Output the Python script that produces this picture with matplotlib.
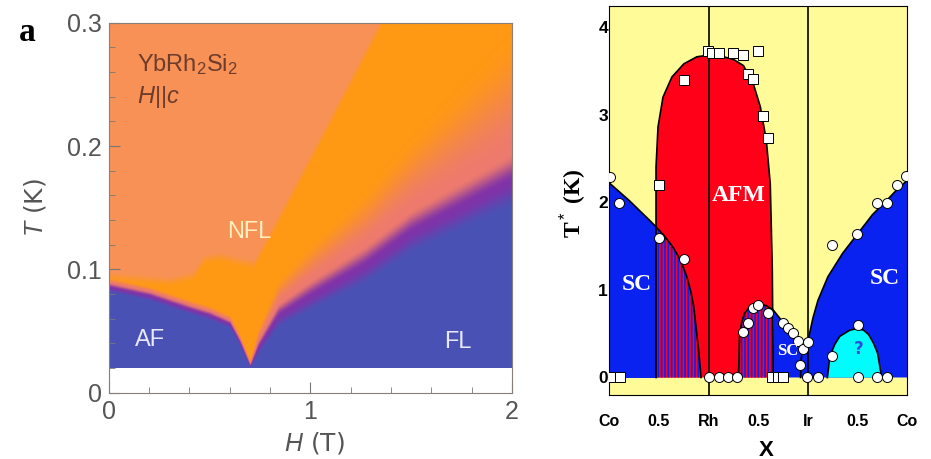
import numpy as np
import matplotlib
matplotlib.use("Agg")
import matplotlib.pyplot as plt
from matplotlib import font_manager

installed = {f.name for f in font_manager.fontManager.ttflist}
narrow = "Liberation Sans Narrow" if "Liberation Sans Narrow" in installed else "Liberation Sans"

plt.rcParams["mathtext.fontset"] = "custom"
plt.rcParams["mathtext.rm"] = narrow
plt.rcParams["mathtext.it"] = narrow + ":italic"
plt.rcParams["hatch.linewidth"] = 1.2

# ---------------- panel a: YbRh2Si2, H || c ----------------
# AF boundary (H in T, T in K)
af_H = [0.0, 0.2, 0.4, 0.5, 0.6, 0.65, 0.70]
af_T = [0.085, 0.078, 0.067, 0.062, 0.055, 0.040, 0.021]
af_width = [0.004, 0.004, 0.004, 0.004, 0.0035, 0.003, 0.002]
# FL crossover (purple band) and how far the salmon tail spreads above it
fl_H = [0.70, 0.74, 0.84, 1.0, 1.27, 1.5, 2.0]
fl_T = [0.021, 0.036, 0.062, 0.078, 0.103, 0.130, 0.172]
fl_width = [0.002, 0.006, 0.010, 0.013, 0.016, 0.018, 0.022]
fl_spread = [0.002, 0.010, 0.020, 0.030, 0.045, 0.060, 0.100]
# upper crossover line (edge of the bright NFL wedge)
nfl_H = [0.0, 0.3, 0.42, 0.47, 0.55, 0.65, 0.72, 0.89, 1.15, 1.35]
nfl_T = [0.094, 0.090, 0.095, 0.108, 0.110, 0.106, 0.104, 0.156, 0.237, 0.300]
T_lowest = 0.02

# ---------------- panel b: T*(x) for Co -> Rh -> Ir -> Co ----------------
afm_x = [0.47, 0.47, 0.49, 0.54, 0.63, 0.75, 0.88, 1.00, 1.12, 1.25, 1.35, 1.45, 1.52, 1.58, 1.62, 1.64, 1.65]
afm_y = [0.0, 2.40, 2.86, 3.20, 3.43, 3.58, 3.66, 3.68, 3.67, 3.63, 3.56, 3.35, 3.09, 2.71, 2.21, 1.26, 0.0]
sc1_x = [0.0, 0.2, 0.4, 0.47, 0.55, 0.64, 0.72, 0.78, 0.82, 0.85, 0.87, 0.90, 0.923]
sc1_y = [2.22, 2.02, 1.80, 1.72, 1.62, 1.49, 1.33, 1.15, 0.98, 0.81, 0.60, 0.30, 0.0]
sc2_x = [1.30, 1.31, 1.33, 1.36, 1.42, 1.50, 1.58, 1.65, 1.72, 1.80, 1.86, 1.91, 1.95]
sc2_y = [0.0, 0.45, 0.62, 0.73, 0.82, 0.84, 0.82, 0.77, 0.67, 0.56, 0.47, 0.40, 0.36]
sc2_tail_x = [1.95, 1.93, 1.925]
sc2_tail_y = [0.36, 0.20, 0.0]
sc3_x = [2.0, 2.05, 2.10, 2.20, 2.35, 2.50, 2.65, 2.80, 2.90, 3.0]
sc3_y = [0.42, 0.68, 0.88, 1.15, 1.42, 1.64, 1.86, 2.03, 2.15, 2.25]
q_x = [2.195, 2.22, 2.27, 2.32, 2.42, 2.50, 2.56, 2.61, 2.66, 2.70, 2.742]
q_y = [0.0, 0.24, 0.38, 0.47, 0.54, 0.56, 0.54, 0.49, 0.39, 0.28, 0.0]
afm_edge = 0.47
rh_edge = 1.65

sq_x = [0.015, 0.105, 0.50, 0.752, 0.997, 1.03, 1.104, 1.248, 1.349, 1.50, 1.399, 1.45, 1.55, 1.597, 1.641, 1.701, 1.752]
sq_y = [0, 0, 2.196, 3.39, 3.73, 3.70, 3.70, 3.70, 3.68, 3.73, 3.46, 3.41, 2.99, 2.73, 0, 0, 0]
circ_x = [0.01, 0.10, 0.50, 0.752, 1.003, 1.104, 1.198, 1.282, 1.349, 1.40, 1.45, 1.50, 1.60, 1.752, 1.80,
          1.852, 1.896, 1.953, 1.92, 1.997, 1.987, 2.097, 2.245, 2.245, 2.50, 2.50, 2.698, 2.799, 2.497,
          2.698, 2.792, 2.893, 2.983]
circ_y = [2.29, 1.995, 1.59, 1.35, 0, 0, 0, 0, 0.524, 0.62, 0.79, 0.83, 0.733, 0.627, 0.562,
          0.513, 0.42, 0.323, 0.144, 0.40, 0, 0, 1.51, 0.247, 0.60, 0, 0, 0, 1.633,
          1.995, 1.995, 2.196, 2.30]
x_ticks = [0, 0.5, 1, 1.5, 2, 2.5, 3]
x_ticklabels = ["Co", "0.5", "Rh", "0.5", "Ir", "0.5", "Co"]

fig = plt.figure(figsize=(9.31, 4.59), dpi=100)

# ---- left panel ----
ax = fig.add_axes([0.1168, 0.1447, 0.4332, 0.8058])

blue = np.array([0.29, 0.32, 0.71])
purple = np.array([0.50, 0.20, 0.66])
salmon = np.array([0.93, 0.48, 0.43])
orange = np.array([1.00, 0.60, 0.08])
coral = np.array([0.97, 0.57, 0.34])

H = np.linspace(0, 2, 600)
T = np.linspace(T_lowest, 0.3, 420)
HH, TT = np.meshgrid(H, T)
line_H = af_H + fl_H[1:]
line_T = af_T + fl_T[1:]
width = af_width + fl_width[1:]
spread = [0.004] * len(af_H) + fl_spread[1:]
base = np.interp(HH, line_H, line_T)
w = np.interp(HH, line_H, width)
s = np.interp(HH, line_H, spread)
d = TT - base


def mix(c0, c1, f):
    f = np.clip(f, 0, 1)
    f = (f * f * (3 - 2 * f))[..., None]
    return c0 * (1 - f) + c1 * f


rgb = np.broadcast_to(blue, HH.shape + (3,)).copy()
rgb = mix(rgb, purple, (d + w) / w)
rgb = mix(rgb, salmon, d / w)
rgb = mix(rgb, orange, (d - w) / s)
top = np.interp(HH, nfl_H, nfl_T, right=1.0)
rgb = mix(rgb, coral, (TT - top) / 0.010 + 0.5)

ax.imshow(rgb, extent=[0, 2, T_lowest, 0.3], origin="lower", aspect="auto", interpolation="bilinear")
ax.set_xlim(0, 2)
ax.set_ylim(0, 0.3)
ax.set_xticks([0, 1, 2])
ax.set_xticks(np.arange(0, 2.01, 0.2), minor=True)
ax.set_yticks([0, 0.1, 0.2, 0.3])
ax.set_yticklabels(["0", "0.1", "0.2", "0.3"])
ax.set_yticks(np.arange(0, 0.301, 0.02), minor=True)
ax.tick_params(which="both", direction="in", color="#777777", top=False, right=False)
ax.tick_params(which="major", length=8, labelsize=18, labelcolor="#555555", pad=5)
ax.tick_params(which="minor", length=4)
for lab in ax.get_xticklabels() + ax.get_yticklabels():
    lab.set_fontfamily(narrow)
for sp in ax.spines.values():
    sp.set_color("#8a7f78")
ax.set_xlabel("$H$ (T)", fontsize=18, color="#555555")
ax.set_ylabel("$T$ (K)", fontsize=18, color="#555555")
ax.xaxis.set_label_coords(0.51, -0.10)
ax.yaxis.set_label_coords(-0.15, 0.50)

ax.text(0.14, 0.266, "YbRh$_2$Si$_2$", fontsize=17, color="#6e3c2c", family=narrow, va="center")
ax.text(0.14, 0.240, "$H||c$", fontsize=17, color="#6e3c2c", va="center")
ax.text(0.695, 0.130, "NFL", fontsize=17, color="#fff0c0", family=narrow, ha="center", va="center")
ax.text(0.205, 0.043, "AF", fontsize=17, color="#e8e8f8", family=narrow, ha="center", va="center")
ax.text(1.73, 0.041, "FL", fontsize=17, color="#e8e8f8", family=narrow, ha="center", va="center")
fig.text(0.02, 0.93, "a", fontsize=24, fontweight="bold", family="Liberation Serif", va="center")

# ---- right panel ----
bx = fig.add_axes([0.6545, 0.1394, 0.3201, 0.8475])
yellow = "#fffb99"
red = "#ff0018"
scblue = "#0a22f0"
cyan = "#00fcfc"
bx.set_facecolor(yellow)

bx.fill(afm_x, afm_y, color=red, lw=0, zorder=1)

x1 = np.array(sc1_x)
y1 = np.array(sc1_y)
m = x1 <= afm_edge
bx.fill_between(x1[m], 0, y1[m], color=scblue, lw=0, zorder=2)
m = x1 >= afm_edge
bx.fill_between(x1[m], 0, y1[m], facecolor=red, edgecolor=scblue, hatch="|||||", lw=0, zorder=2)

x2 = np.array(sc2_x)
y2 = np.array(sc2_y)
m = x2 <= rh_edge
bx.fill_between(x2[m], 0, y2[m], facecolor=red, edgecolor=scblue, hatch="|||||", lw=0, zorder=2)
m = x2 >= rh_edge
px = list(x2[m]) + sc3_x + [3.0, rh_edge]
py = list(y2[m]) + sc3_y + [0.0, 0.0]
bx.fill(px, py, color=scblue, lw=0, zorder=2)
bx.fill(q_x, q_y, color=cyan, lw=0, zorder=2)

for xs, ys in [(afm_x, afm_y), (sc1_x, sc1_y), (sc2_x, sc2_y), (sc2_tail_x, sc2_tail_y),
               (sc3_x, sc3_y), (q_x, q_y)]:
    bx.plot(xs, ys, color="black", lw=1.2, zorder=3)
bx.axvline(1, color="black", lw=1.2, zorder=3)
bx.axvline(2, color="black", lw=1.2, zorder=3)

bx.plot(sq_x, sq_y, ls="none", marker="s", ms=6.8, mfc="white", mec="black", mew=0.7, zorder=4)
bx.plot(circ_x, circ_y, ls="none", marker="o", ms=7.2, mfc="white", mec="black", mew=0.7, zorder=4)

serif = "Liberation Serif"
bx.text(1.30, 2.08, "AFM", color="white", fontsize=17, fontweight="bold", family=serif,
        ha="center", va="center", zorder=5)
bx.text(0.275, 1.06, "SC", color="white", fontsize=17, fontweight="bold", family=serif,
        ha="center", va="center", zorder=5)
bx.text(2.775, 1.13, "SC", color="white", fontsize=17, fontweight="bold", family=serif,
        ha="center", va="center", zorder=5)
bx.text(1.80, 0.30, "SC", color="white", fontsize=12, fontweight="bold", family=serif,
        ha="center", va="center", zorder=5)
bx.text(2.507, 0.33, "?", color="#2a4ae0", fontsize=12, fontweight="bold",
        ha="center", va="center", zorder=5)

bx.set_xlim(0, 3)
bx.set_ylim(-0.2, 4.24)
bx.set_xticks(x_ticks)
bx.set_xticklabels(x_ticklabels)
bx.set_yticks([0, 1, 2, 3, 4])
bx.tick_params(axis="x", length=0, pad=14, labelsize=11.5)
bx.tick_params(axis="y", length=0, pad=1, labelsize=12.5)
for lab in bx.get_xticklabels() + bx.get_yticklabels():
    lab.set_fontweight("bold")
    lab.set_fontfamily("Liberation Sans")
for sp in bx.spines.values():
    sp.set_linewidth(0.8)
bx.set_ylabel("T$^*$ (K)", fontsize=17, fontweight="bold", family=serif)
bx.yaxis.set_label_coords(-0.07, 0.494)
bx.set_xlabel("X", fontsize=16, fontweight="bold", family="Liberation Sans")
bx.xaxis.set_label_coords(0.528, -0.115)

fig.savefig("out.png", dpi=100)
